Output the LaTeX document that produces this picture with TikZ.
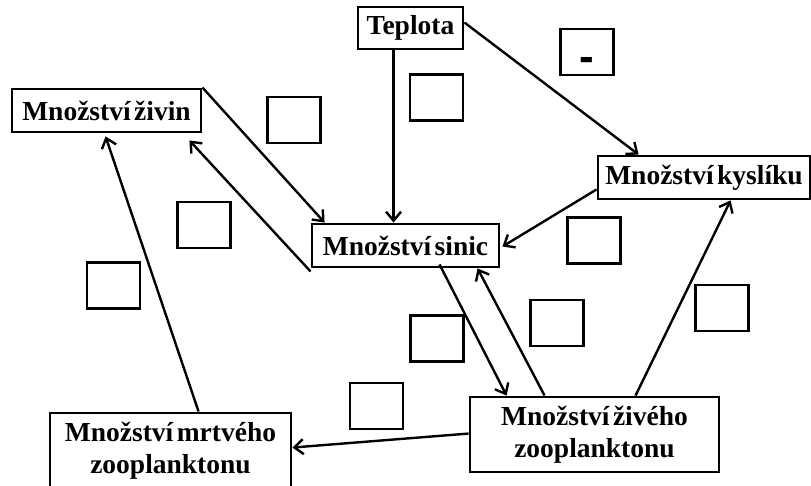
\documentclass[tikz,border=0pt]{standalone}
\usepackage{fontspec}
\setmainfont{Liberation Serif}[WordSpace=0.5]
\newfontfamily\dashfont{Liberation Sans}
\usetikzlibrary{arrows.meta,calc}
\tikzset{
  concept/.style={draw=black, line width=2.9pt, fill=white, inner sep=0pt,
    font=\fontsize{27.5}{31.5}\selectfont\bfseries, align=center},
  smallbox/.style={draw=black, line width=2.9pt, fill=white, inner sep=0pt,
    minimum width=53pt, minimum height=46pt},
  link/.style={draw=black, line width=2.4pt, -{Straight Barb[length=9pt,width=15pt,line width=2.4pt]}}
}
\begin{document}
\begin{tikzpicture}[x=1pt,y=-1pt]
\useasboundingbox (0,0) rectangle (811,485);
\fill[white] (0,0) rectangle (811,485);
\clip (0,0) rectangle (811,485);

% concept boxes
\node[concept, minimum width=105pt, minimum height=42pt] (tep) at (410.5,28) {Teplota};
\node[concept, minimum width=189pt, minimum height=43pt] (ziv) at (106.5,110.5) {Množství živin};
\node[concept, minimum width=187pt, minimum height=43pt] (sin) at (405.5,245.5) {Množství sinic};
\node[concept, minimum width=212pt, minimum height=43pt] (kys) at (704,177.5) {Množství kyslíku};
\node[concept, minimum width=249pt, minimum height=75pt] (zivy) at (594.5,434.5) {Množství živého\\zooplanktonu};
\node[concept, minimum width=241pt, minimum height=75pt] (mrt) at (170.5,450.5) {Množství mrtvého\\zooplanktonu};

% empty answer boxes
\node[smallbox] (b1) at (294,120) {};
\node[smallbox] (b2) at (436.5,97.5) {};
\node[smallbox] (b3) at (204,225) {};
\node[smallbox, text height=0pt, text depth=0pt,
      font=\dashfont\bfseries\fontsize{44}{44}\selectfont] (b4) at (587,52) {\raisebox{-19pt}{-}};
\node[smallbox] (b5) at (594,240.5) {};
\node[smallbox] (b6) at (113.5,285.5) {};
\node[smallbox] (b7) at (437,338.5) {};
\node[smallbox] (b8) at (376.5,406) {};
\node[smallbox] (b9) at (557,323) {};
\node[smallbox] (b10) at (722,308) {};

% connectors
\draw[link] ($(tep.south west)+(37,0)$) -- ($(sin.north west)+(83,0)$);
\draw[link] ($(tep.north east)+(0,17)$) -- ($(kys.north west)+(42,0)$);
\draw[link] (ziv.north east) -- ($(sin.north west)+(14,0)$);
\draw[link] ($(sin.south west)+(0,3)$) -- ($(ziv.south east)+(-13,7)$);
\draw[link] ($(mrt.north west)+(150,0)$) -- ($(ziv.south west)+(95,3)$);
\draw[link] ($(kys.south west)+(0,-11)$) -- ($(sin.north east)+(2,24)$);
\draw[link] ($(sin.south west)+(129,-4)$) -- ($(zivy.north west)+(38,0)$);
\draw[link] ($(zivy.north west)+(76,0)$) -- ($(sin.south west)+(167,0)$);
\draw[link] ($(zivy.north west)+(167,0)$) -- ($(kys.south west)+(134,0)$);
\draw[link] ($(zivy.north west)+(0,38)$) -- ($(mrt.north east)+(0,36)$);
\end{tikzpicture}
\end{document}
